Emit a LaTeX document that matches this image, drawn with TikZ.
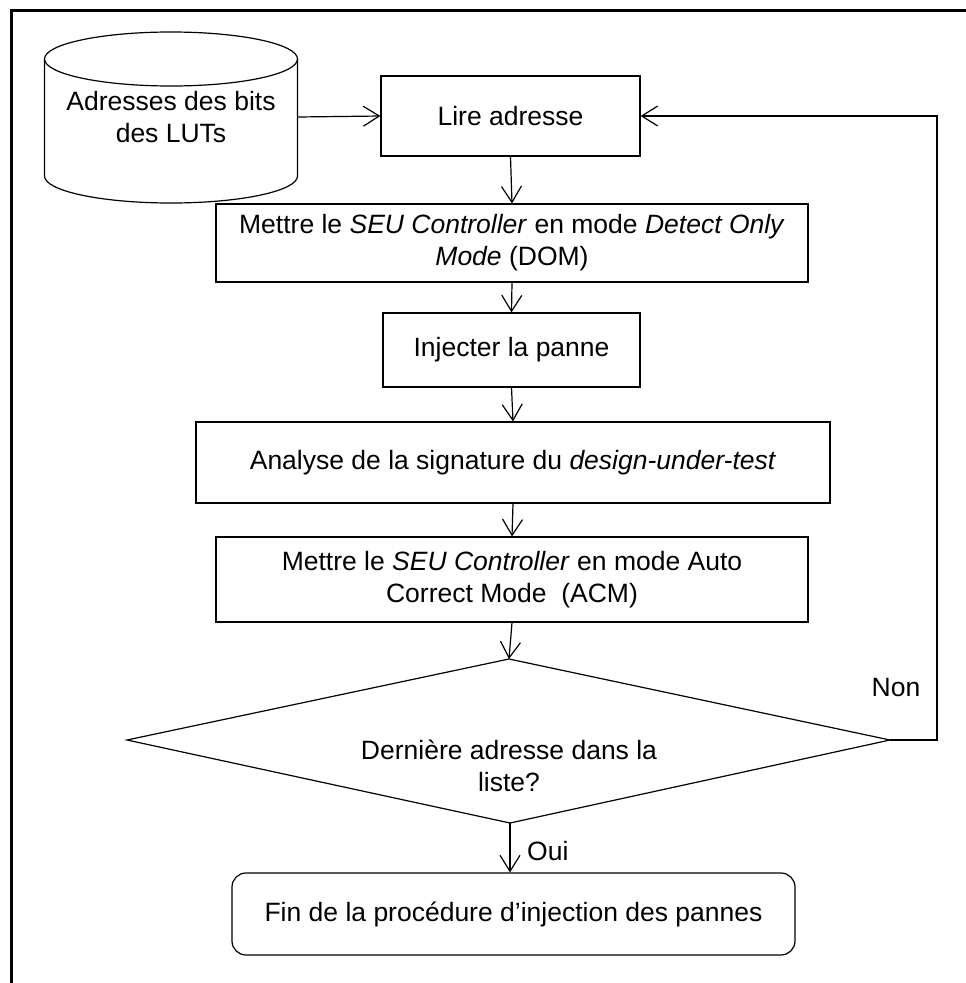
\documentclass[tikz,border=0pt]{standalone}
\usepackage{fontspec}
\setmainfont{Liberation Sans}
\usetikzlibrary{arrows.meta}
\begin{document}
\begin{tikzpicture}[x=1pt,y=-1pt,
  every node/.style={font=\fontsize{26.5}{32}\selectfont},
  box/.style={draw, line width=1.2pt, inner sep=0pt, align=center},
  arr/.style={line width=1.2pt, -{Straight Barb[length=16pt,width=20pt,line width=1.2pt]}},
  lbl/.style={inner sep=0pt}]
\useasboundingbox (0,0) rectangle (966,983);
% outer frame (cropped)
\draw[line width=3pt] (11,983) -- (11,10) -- (966,10);
% cylinder
\draw[line width=1.2pt] (44.5,59) -- (44.5,176)
  arc[start angle=180,end angle=0,x radius=126.5,y radius=27] -- (297.5,59);
\draw[line width=1.2pt] (171,59) ellipse[x radius=126.5,y radius=27];
\node[box,draw=none,minimum width=253pt,minimum height=171pt] (db) at (171,117) {Adresses des bits\\des LUTs};
% boxes
\node[box,minimum width=259pt,minimum height=80pt] (lire) at (510.5,116) {Lire adresse};
\node[box,minimum width=592pt,minimum height=78pt] (dom) at (512,243) {Mettre le \textit{SEU Controller} en mode \textit{Detect Only}\\\textit{Mode} (DOM)};
\node[box,minimum width=257pt,minimum height=74pt] (inj) at (511.5,350) {Injecter la panne};
\node[box,minimum width=634pt,minimum height=81pt] (ana) at (513,462.5) {Analyse de la signature du \textit{design-under-test}};
\node[box,minimum width=592pt,minimum height=85pt] (acm) at (512,579.5) {Mettre le \textit{SEU Controller} en mode Auto\\Correct Mode~~(ACM)};
% decision
\coordinate (dt) at (509,659);
\coordinate (dr) at (890,740);
\coordinate (db2) at (510,823);
\coordinate (dl) at (127,740);
\draw[line width=1.2pt] (dt) -- (dr) -- (db2) -- (dl) -- cycle;
\node[lbl,align=center] (dec) at (509,766) {Dernière adresse dans la\\liste?};
% end
\node[box,rounded corners=14pt,minimum width=563pt,minimum height=82pt] (fin) at (513.5,914) {Fin de la procédure d’injection des pannes};
% connectors
\draw[arr] (db.east) -- (lire.west);
\draw[arr] (lire.south) -- (dom.north);
\draw[arr] (dom.south) -- (inj.north);
\draw[arr] (inj.south) -- (ana.north);
\draw[arr] (ana.south) -- (acm.north);
\draw[arr] (acm.south) -- (dt);
\draw[arr] (db2) -- (fin.north -| db2);
\coordinate (r1) at (937,740);
\coordinate (r2) at (937,116);
\draw[arr] (dr) -- (r1) -- (r2) -- (lire.east);
\node[lbl,anchor=west] (oui) at (527,851) {Oui};
\node[lbl] (non) at (896,688) {Non};
\end{tikzpicture}
\end{document}
